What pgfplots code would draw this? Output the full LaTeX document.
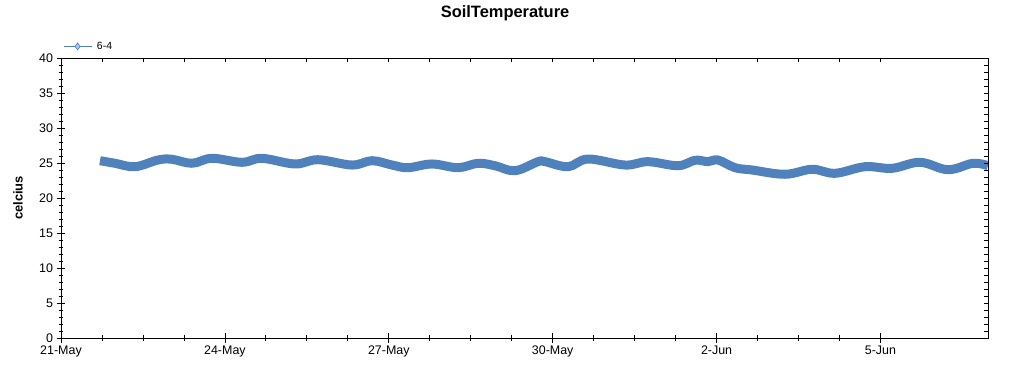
\documentclass[border=0pt]{standalone}
\usepackage{pgfplots}
\pgfplotsset{compat=1.18}
\usepackage{fontspec}
\setmainfont{Liberation Sans}
\definecolor{serblue}{HTML}{4F81BD}
\definecolor{lightdia}{HTML}{A9C4E4}
\begin{document}
\begin{tikzpicture}
\useasboundingbox (0,0) rectangle (1024bp,375bp);
\begin{axis}[
  at={(61bp,37bp)}, anchor=south west,
  scale only axis, width=927bp, height=280bp,
  xmin=0, xmax=16.968, ymin=0, ymax=40,
  xtick={0,3,6,9,12,15},
  xticklabels={21-May,24-May,27-May,30-May,2-Jun,5-Jun},
  ytick={0,5,...,40},
  minor x tick num=3, minor y tick num=4,
  tick pos=left, tick align=center,
  major tick length=9bp, minor tick length=5bp,
  every tick/.style={black, line width=0.8pt},
  axis line style={black, line width=0.9pt},
  tick label style={font=\fontsize{12.5}{14}\selectfont},
  /pgf/number format/assume math mode=true,
  title={SoilTemperature},
  title style={font=\bfseries\fontsize{16.5}{19}\selectfont, at={(0.479,1)}, anchor=center, yshift=39bp},
  ylabel={celcius},
  ylabel style={font=\bfseries\fontsize{13}{15}\selectfont, at={(axis description cs:-0.0464,0.5)}, anchor=center},
  legend style={draw=none, fill=none, at={(0,1)}, anchor=south west, xshift=1bp, yshift=4bp,
    font=\fontsize{10.5}{12}\selectfont, inner sep=1bp, nodes={inner xsep=5bp}},
  legend image code/.code={\draw[mark repeat=2,mark phase=2,#1] plot coordinates {(0bp,0bp) (14bp,0bp) (28bp,0bp)};},
]
\addlegendimage{serblue, line width=0.8pt, mark=diamond*, mark size=3.5bp, mark options={fill=lightdia, draw=serblue, line width=0.6pt}}
\addlegendentry{6-4}
\addplot[serblue, line width=9bp, smooth, tension=0.6, line join=round, forget plot] coordinates {
(0.714,25.33) (0.988,24.96) (1.355,24.47) (1.776,25.43) (2.032,25.53)
(2.398,24.96) (2.764,25.67) (3.313,25.10) (3.679,25.67) (4.283,24.86)
(4.704,25.47) (5.327,24.71) (5.693,25.33) (6.059,24.71) (6.352,24.33)
(6.791,24.86) (7.267,24.33) (7.633,24.96) (7.944,24.61) (8.311,23.90)
(8.732,25.19) (8.860,25.19) (9.281,24.47) (9.647,25.57) (10.324,24.71)
(10.745,25.19) (11.294,24.61) (11.605,25.39) (11.843,25.19) (12.026,25.43)
(12.337,24.33) (12.649,24.00) (13.253,23.39) (13.747,24.10) (14.168,23.53)
(14.717,24.47) (15.211,24.24) (15.724,25.10) (16.236,24.04) (16.694,24.96)
(16.968,24.61)
};
\end{axis}
\begin{axis}[
  at={(61bp,37bp)}, anchor=south west,
  scale only axis, width=927bp, height=280bp,
  xmin=0, xmax=16.968, ymin=0, ymax=40,
  xtick={0,3,6,9,12,15}, ytick={0,5,...,40},
  minor x tick num=3, minor y tick num=4,
  tick pos=right, tick align=inside,
  major tick length=4bp, minor tick length=4bp,
  every tick/.style={black, line width=0.8pt},
  axis line style={black, line width=0.9pt},
  xticklabels={}, yticklabels={},
]
\end{axis}
\end{tikzpicture}
\end{document}
